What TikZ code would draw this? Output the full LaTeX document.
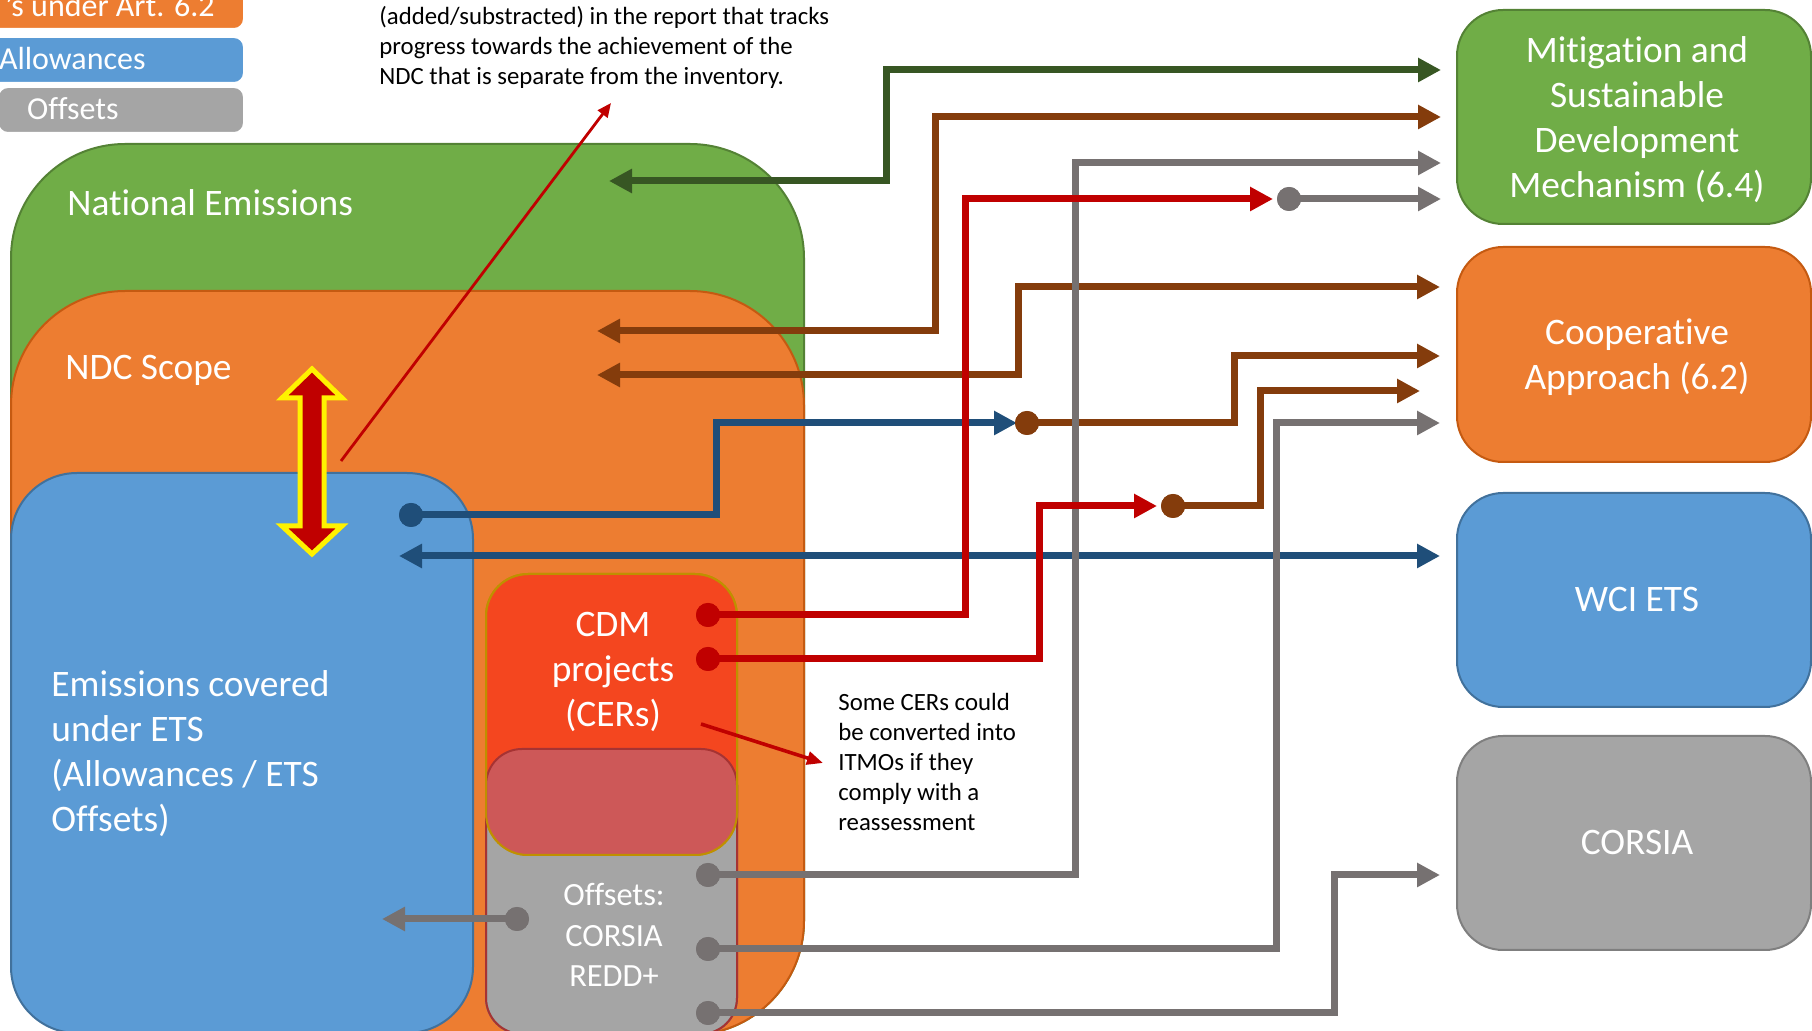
\documentclass[tikz,border=0pt]{standalone}
\usepackage{fontspec}
\setmainfont{Carlito}[Ligatures={NoCommon}]
\usetikzlibrary{arrows.meta}
\definecolor{greenF}{HTML}{70AD47}
\definecolor{greenB}{HTML}{548235}
\definecolor{orangeF}{HTML}{ED7D31}
\definecolor{orangeB}{HTML}{C55A11}
\definecolor{blueF}{HTML}{5B9BD5}
\definecolor{blueB}{HTML}{41719C}
\definecolor{grayF}{HTML}{A5A5A5}
\definecolor{grayB}{HTML}{7F7F7F}
\definecolor{cdmF}{HTML}{F4461F}
\definecolor{cdmB}{HTML}{BF9000}
\definecolor{ovlF}{HTML}{CD5858}
\definecolor{lnGreen}{HTML}{375623}
\definecolor{lnBrown}{HTML}{843C0C}
\definecolor{lnRed}{HTML}{C00000}
\definecolor{lnGray}{HTML}{767171}
\definecolor{lnBlue}{HTML}{1F4E79}
\newcommand{\mlc}[1]{\begin{tabular}[t]{@{}c@{}}#1\end{tabular}}
\newcommand{\mll}[1]{\begin{tabular}[t]{@{}l@{}}#1\end{tabular}}
\begin{document}
\begin{tikzpicture}[x=0.5pt,y=-0.5pt,
  >={Triangle[length=11.5pt,width=11.5pt]},
  conn/.style={line width=3.5pt},
  dotnode/.style={circle,inner sep=0pt,minimum size=12pt},
  bigtxt/.style={text=white,font=\fontsize{18.7}{22.5}\selectfont,inner sep=0pt},
  midtxt/.style={text=white,font=\fontsize{16.2}{20.25}\selectfont,inner sep=0pt},
  legtxt/.style={text=white,font=\fontsize{16}{19}\selectfont,inner sep=0pt},
  notetxt/.style={text=black,font=\fontsize{12.4}{14.9}\selectfont,inner sep=0pt},
  shapeline/.style={line width=1pt},
]
\useasboundingbox (0,0) rectangle (1812,1031);
\clip (0,0) rectangle (1812,1031);

% legend
\draw[fill=orangeF,draw=white,shapeline,rounded corners=5pt] (-20,-20) rectangle (244,29);
\draw[fill=blueF,draw=white,shapeline,rounded corners=5pt] (-20,37) rectangle (244,83);
\draw[fill=grayF,draw=white,shapeline,rounded corners=5pt] (-2,87) rectangle (244,133);
\node[legtxt,anchor=base east] (leg1) at (215,17) {’s under Art. 6.2};
\node[legtxt,anchor=base east] (leg2) at (146,70) {Allowances};
\node[legtxt,anchor=base east] (leg3) at (119,120) {Offsets};

% nested areas
\draw[fill=greenF,draw=greenB,shapeline,rounded corners=57pt] (11,144) rectangle (804,1035);
\draw[fill=orangeF,draw=orangeB,shapeline,rounded corners=57pt] (11,291) rectangle (804,1035);
\fill[white] (-5,940) rectangle (120,1040);
\draw[fill=blueF,draw=blueB,shapeline,rounded corners=33pt] (11,473) rectangle (473,1033);
\draw[fill=grayF,draw=grayB,shapeline,rounded corners=18pt] (486,749) rectangle (737,1034);
\draw[fill=cdmF,draw=cdmB,shapeline,rounded corners=21pt] (486,574) rectangle (737,855);
\begin{scope}
  \clip[rounded corners=18pt] (486,749) rectangle (737,1034);
  \fill[ovlF,rounded corners=21pt] (486,574) rectangle (737,855);
\end{scope}
\draw[draw=lnRed!60!grayB,shapeline,rounded corners=18pt] (486,749) rectangle (737,1034);
\draw[draw=cdmB,shapeline,rounded corners=21pt] (486,574) rectangle (737,855);

\node[bigtxt,anchor=base west] (natl) at (67,216) {National Emissions};
\node[bigtxt,anchor=base west] (ndc) at (65,380) {NDC Scope};
\node[bigtxt,anchor=base west] (ets) at (51,697) {\mll{Emissions covered\\under ETS\\(Allowances / ETS\\Offsets)}};
\node[bigtxt,anchor=base] (cdm) at (613,637) {\mlc{CDM\\projects\\(CERs)}};
\node[midtxt,anchor=base] (offs) at (614,906) {\mlc{Offsets:\\CORSIA\\REDD+}};

% right boxes
\draw[fill=greenF,draw=greenB,shapeline,rounded corners=23pt] (1457,10) rectangle (1811,224);
\draw[fill=orangeF,draw=orangeB,shapeline,rounded corners=23pt] (1457,247) rectangle (1811,462);
\draw[fill=blueF,draw=blueB,shapeline,rounded corners=23pt] (1457,493) rectangle (1811,707);
\draw[fill=grayF,draw=grayB,shapeline,rounded corners=23pt] (1457,736) rectangle (1811,950);
\node[bigtxt,anchor=base] (mit) at (1637,63) {\mlc{Mitigation and\\Sustainable\\Development\\Mechanism (6.4)}};
\node[bigtxt,anchor=base] (coop) at (1637,345) {\mlc{Cooperative\\Approach (6.2)}};
\node[bigtxt,anchor=base] (wci) at (1637,612) {WCI ETS};
\node[bigtxt,anchor=base] (corsia) at (1637,855) {CORSIA};

% notes
\node[notetxt,anchor=base west] (note1) at (379,25) {\mll{(added/substracted) in the report that tracks\\progress towards the achievement of the\\NDC that is separate from the inventory.}};
\node[notetxt,anchor=base west] (note2) at (838,711) {\mll{Some CERs could\\be converted into\\ITMOs if they\\comply with a\\reassessment}};

% big double arrow
\draw[fill=lnRed,draw=yellow,line width=2.5pt,line join=miter]
  (312,369) -- (342,398) -- (324,398) -- (324,526) -- (342,526) -- (312,554)
  -- (282,526) -- (300,526) -- (300,398) -- (282,398) -- cycle;

% coordinates
\coordinate (neT) at (609,181);
\coordinate (mitA) at (1441,70);
\coordinate (ndcA) at (597,331);
\coordinate (mitB) at (1441,117);
\coordinate (ndcB) at (597,375);
\coordinate (coopA) at (1440,287);
\coordinate (blT) at (1017,423);
\coordinate (coopB) at (1440,356);
\coordinate (etsT) at (399,556);
\coordinate (wciA) at (1440,556);
\coordinate (mitC) at (1441,163);
\coordinate (rT1) at (1273,199);
\coordinate (mitD) at (1441,199);
\coordinate (rT2) at (1157,506);
\coordinate (coopC) at (1420,391);
\coordinate (coopD) at (1440,423);
\coordinate (corA) at (1440,875);
\coordinate (etsT2) at (382,919);

% dots
\node[dotnode,fill=lnBlue] (bdot) at (411,515) {};
\node[dotnode,fill=lnBrown] (brdot1) at (1027,423) {};
\node[dotnode,fill=lnBrown] (brdot2) at (1173,506) {};
\node[dotnode,fill=lnGray] (gdot) at (1289,199) {};
\node[dotnode,fill=lnRed] (cd1) at (708,615) {};
\node[dotnode,fill=lnRed] (cd2) at (708,659) {};
\node[dotnode,fill=lnGray] (od1) at (708,875) {};
\node[dotnode,fill=lnGray] (od2) at (708,949) {};
\node[dotnode,fill=lnGray] (od3) at (708,1013) {};
\node[dotnode,fill=lnGray] (od4) at (517,919) {};

% connectors
\draw[conn,lnGreen,<->] (neT) -| (886,70) -- (mitA);
\draw[conn,lnBrown,<->] (ndcA) -| (935,117) -- (mitB);
\draw[conn,lnBrown,<->] (ndcB) -| (1018,287) -- (coopA);
\draw[conn,lnBrown,->] (brdot1.center) -| (1234,356) -- (coopB);
\draw[conn,lnBrown,->] (brdot2.center) -| (1260,391) -- (coopC);
\draw[conn,lnBlue,->] (bdot.center) -| (716,423) -- (blT);
\draw[conn,lnBlue,<->] (etsT) -- (wciA);
\draw[conn,lnGray,->] (od1.center) -| (1075,163) -- (mitC);
\draw[conn,lnGray,->] (od2.center) -| (1276,423) -- (coopD);
\draw[conn,lnGray,->] (od3.center) -| (1334,875) -- (corA);
\draw[conn,lnGray,->] (od4.center) -- (etsT2);
\draw[conn,lnGray,->] (gdot.center) -- (mitD);
\draw[conn,lnRed,->] (cd1.center) -| (965,199) -- (rT1);
\draw[conn,lnRed,->] (cd2.center) -| (1039,506) -- (rT2);

% redraw dots on top
\foreach \d/\c in {bdot/lnBlue,brdot1/lnBrown,brdot2/lnBrown,gdot/lnGray,cd1/lnRed,cd2/lnRed,od1/lnGray,od2/lnGray,od3/lnGray,od4/lnGray}
  \fill[\c] (\d) circle (6pt);

% annotation arrows
\coordinate (an1s) at (341,461);
\coordinate (an1e) at (611,103);
\coordinate (an2s) at (701,724);
\coordinate (an2e) at (823,763);
\draw[lnRed,line width=1.4pt,-{Triangle[length=7pt,width=6pt]}] (an1s) -- (an1e);
\draw[lnRed,line width=1.8pt,-{Triangle[length=8pt,width=6.5pt]}] (an2s) -- (an2e);
\end{tikzpicture}
\end{document}
